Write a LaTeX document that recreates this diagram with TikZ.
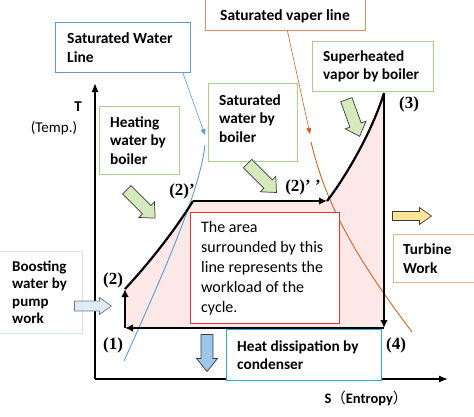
\documentclass[tikz,border=0pt]{standalone}
\usepackage{fontspec}
\setmainfont{Carlito}
\newfontfamily\numfont{Liberation Serif}
\newfontfamily\cjkfont{Noto Sans CJK SC}
\usetikzlibrary{arrows.meta}
\definecolor{pinkc}{RGB}{253,232,232}
\definecolor{greenb}{RGB}{169,209,142}
\definecolor{greenf}{RGB}{214,234,190}
\definecolor{bluec}{RGB}{91,155,213}
\definecolor{orangec}{RGB}{205,100,40}
\definecolor{svlc}{RGB}{226,140,90}
\definecolor{turbc}{RGB}{244,177,131}
\definecolor{boostc}{RGB}{214,226,240}
\definecolor{heatc}{RGB}{50,170,220}
\definecolor{redc}{RGB}{230,50,50}
\definecolor{lbluef}{RGB}{222,235,247}
\definecolor{sbluef}{RGB}{157,199,232}
\definecolor{yellowf}{RGB}{255,228,150}
\definecolor{arrb}{RGB}{60,60,60}
\tikzset{
  bx/.style={draw, line width=0.9pt, fill=white, anchor=north west, inner sep=0pt},
  bt/.style={anchor=west, align=left, inner sep=0pt, font=\fontsize{15.3}{18.5}\selectfont\bfseries},
  cyc/.style={line width=2.2pt, line join=round},
  tipk/.style={-{Latex[length=8pt,width=7.5pt]}},
  num/.style={inner sep=0pt, font=\fontsize{17}{20}\selectfont\numfont\bfseries},
  blk/.style={draw=arrb, line width=0.7pt, line join=miter},
}
% block arrow: length, shaft width, head width, head length
\newcommand{\blockarrow}[5]{%
  \path[#1] (-#2/2,-#3/2) -- (#2/2-#5,-#3/2) -- (#2/2-#5,-#4/2) -- (#2/2,0)
    -- (#2/2-#5,#4/2) -- (#2/2-#5,#3/2) -- (-#2/2,#3/2) -- cycle;}
\begin{document}
\begin{tikzpicture}[x=1pt,y=-1pt]
\useasboundingbox (0,0) rectangle (474,416);

% cycle coordinates
\coordinate (p1) at (125,328);
\coordinate (p2) at (125,289);
\coordinate (p2a) at (193,201);
\coordinate (p2b) at (327,201);
\coordinate (p3) at (384,93);
\coordinate (p4) at (384,328);

% pink area
\fill[pinkc] (p1) -- (p2) .. controls (150,262) and (175,230) .. (p2a) -- (p2b)
  .. controls (345,178) and (372,132) .. (p3) -- (p4) -- cycle;

% axes
\coordinate (o) at (95,379);
\coordinate (ytop) at (95,83);
\coordinate (xend) at (448,379);
\draw[line width=1.3pt, -{Latex[length=9pt,width=7pt]}] (o) -- (ytop);
\draw[line width=1.3pt, -{Latex[length=9pt,width=7pt]}] (o) -- (xend);

% saturated water line
\coordinate (swb) at (124,361);
\coordinate (swa) at (205,145);
\draw[bluec, line width=0.9pt] (swb) .. controls (165,270) and (200,190) .. (swa);

% saturated vapor line
\coordinate (sva) at (311,142);
\coordinate (svb) at (412,332);
\draw[orangec, line width=0.9pt] (sva) .. controls (325,200) and (350,250) .. (svb);

% red box (on top of pink)
\node[bx, draw=redc, minimum width=149, minimum height=111] (area) at (190,212) {};
\node[anchor=west, align=left, inner sep=0pt, font=\fontsize{16}{20}\selectfont] (areatext) at ([xshift=11pt]area.west)
  {The area\\surrounded by this\\line represents the\\workload of the\\cycle.};

% cycle lines
\draw[cyc, tipk] (p1) -- (p2);
\draw[cyc] (p2) .. controls (150,262) and (175,230) .. (p2a);
\draw[cyc, tipk] (p2a) -- (p2b);
\draw[cyc] (p2b) .. controls (345,178) and (372,132) .. (p3);
\draw[cyc, tipk] (p3) -- (p4);
\draw[cyc, tipk] (p4) -- (p1);

% boxes
\node[bx, draw=bluec, minimum width=135, minimum height=50] (swl) at (55,22) {};
\node[bt, font=\fontsize{15.5}{19}\selectfont\bfseries] (swlt) at ([xshift=12pt]swl.west) {Saturated Water\\Line};

\node[bx, draw=svlc, minimum width=160, minimum height=46, anchor=south west] (svl) at (205,31) {};
\node[inner sep=0pt, font=\fontsize{15.5}{19}\selectfont\bfseries] (svlt) at (285,16) {Saturated vaper line};

\node[bx, draw=greenb, minimum width=121, minimum height=50] (sh) at (312,41) {};
\node[bt] (sht) at ([xshift=11pt]sh.west) {Superheated\\vapor by boiler};

\node[bx, draw=greenb, minimum width=89, minimum height=78] (swbox) at (208,83) {};
\node[bt] (swboxt) at ([xshift=11pt,yshift=4pt]swbox.west) {Saturated\\water by\\boiler};

\node[bx, draw=greenb, minimum width=80, minimum height=68] (hw) at (99,106) {};
\node[bt] (hwt) at ([xshift=11pt]hw.west) {Heating\\water by\\boiler};

\node[bx, draw=boostc, minimum width=84, minimum height=82] (bp) at (-2,251) {};
\node[bt, font=\fontsize{15}{17.5}\selectfont\bfseries] (bpt) at ([xshift=14pt]bp.west) {Boosting\\water by\\pump\\work};

\node[bx, draw=turbc, minimum width=90, minimum height=48] (tb) at (393,234) {};
\node[bt] (tbt) at ([xshift=10pt]tb.west) {Turbine\\Work};

\node[bx, draw=heatc, minimum width=155, minimum height=51] (hd) at (226,329) {};
\node[bt] (hdt) at ([xshift=11pt]hd.west) {Heat dissipation by\\condenser};

% pointer arrows to curves
\coordinate (swtip) at (205,135);
\coordinate (svtip) at (310,134);
\draw[bluec, line width=0.6pt, -{Triangle[length=6pt,width=5pt]}] ([xshift=-8pt]swl.south east) -- (swtip);
\draw[orangec, line width=0.6pt, -{Triangle[length=6pt,width=5pt]}] ([xshift=2pt]svl.south) -- (svtip);

% block arrows
\blockarrow{blk, fill=greenf, shift={(141,204)}, rotate=-45}{40}{12}{22}{12}
\blockarrow{blk, fill=greenf, shift={(262,178)}, rotate=-45}{41}{12}{22}{12}
\blockarrow{blk, fill=greenf, shift={(353,118)}, rotate=-70}{39}{12}{22}{12}
\blockarrow{blk, fill=lbluef, draw=arrb!70, shift={(93,306)}}{37}{10}{17}{12}
\blockarrow{blk, fill=sbluef, shift={(207,353)}, rotate=-90}{37}{12}{21}{13}
\blockarrow{blk, fill=yellowf, shift={(412,216)}}{39}{9}{17}{12}

% point labels
\node[num] (l2a) at (182,191) {(2)’};
\node[num] (l2b) at (303,187) {(2)’ ’};
\node[num] (l3) at (409,104) {(3)};
\node[num] (l2) at (113,280) {(2)};
\node[num] (l1) at (113,345) {(1)};
\node[num] (l4) at (396,345) {(4)};

% axis labels
\node[inner sep=0pt, font=\fontsize{15}{16}\selectfont\bfseries] (tl) at (78,107) {T};
\node[inner sep=0pt, font=\fontsize{15}{16}\selectfont] (tt) at (54,128) {(Temp.)};
\node[inner sep=0pt, font=\fontsize{14.5}{16}\selectfont\bfseries] (sl) at (366,398) {S{\cjkfont\mdseries （}Entropy{\cjkfont\mdseries ）}};
\end{tikzpicture}
\end{document}
